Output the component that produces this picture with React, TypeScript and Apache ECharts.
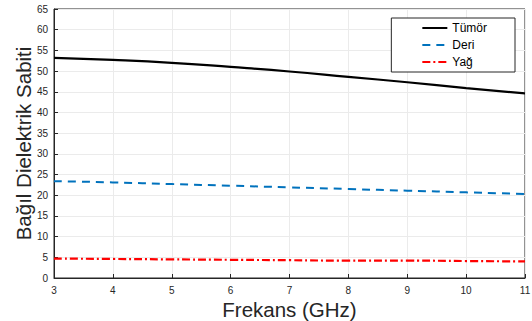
import React, { useEffect, useRef } from "react";
import * as echarts from "echarts";

const frequencies = [3, 4, 5, 6, 7, 8, 9, 10, 11];
const tumor = [53.2, 52.7, 52.0, 51.0, 49.9, 48.6, 47.3, 45.9, 44.6];
const skin = [23.4, 23.1, 22.7, 22.3, 21.9, 21.5, 21.1, 20.7, 20.3];
const fat = [4.7, 4.6, 4.5, 4.4, 4.3, 4.2, 4.2, 4.1, 4.0];
const seriesNames = ["Tümör", "Deri", "Yağ"];

const pairs = (ys: number[]) => frequencies.map((x, i) => [x, ys[i]]);

export default function App() {
  const ref = useRef<HTMLDivElement>(null);
  useEffect(() => {
    if (!ref.current) return;
    const chart = echarts.init(ref.current, null, { renderer: "svg" });
    const font = "Liberation Sans, Arial, sans-serif";
    chart.setOption({
      animation: false,
      textStyle: { fontFamily: font },
      grid: {
        left: 54,
        right: 7,
        top: 9,
        bottom: 43,
        outerBoundsMode: "none",
        show: true,
        borderColor: "#262626",
        borderWidth: 1,
        backgroundColor: "#fff",
      },
      legend: {
        data: seriesNames,
        orient: "vertical",
        right: 17,
        top: 18,
        itemWidth: 25,
        itemHeight: 10,
        itemGap: 5,
        padding: [4, 28, 4, 30],
        borderColor: "#262626",
        borderWidth: 1,
        backgroundColor: "#fff",
        itemStyle: { color: "transparent", borderColor: "transparent", borderWidth: 0, opacity: 0 },
        textStyle: { fontFamily: font, fontSize: 12, color: "#000" },
      },
      xAxis: {
        type: "value",
        min: 3,
        max: 11,
        interval: 1,
        name: "Frekans (GHz)",
        nameLocation: "middle",
        nameGap: 21,
        nameMoveOverlap: false,
        nameTextStyle: { fontSize: 20.5, color: "#262626", fontFamily: font },
        axisLine: { show: true, lineStyle: { color: "#262626" } },
        axisTick: { show: true, inside: true, length: 4, lineStyle: { color: "#262626" } },
        axisLabel: { fontSize: 10, color: "#262626", margin: 7 },
        splitLine: { show: true, lineStyle: { color: "#ebebeb" } },
      },
      yAxis: {
        type: "value",
        min: 0,
        max: 65,
        interval: 5,
        name: "Bağıl Dielektrik Sabiti",
        nameLocation: "middle",
        nameGap: 20,
        nameMoveOverlap: false,
        nameTextStyle: { fontSize: 20.5, color: "#262626", fontFamily: font },
        axisLine: { show: true, lineStyle: { color: "#262626" } },
        axisTick: { show: true, inside: true, length: 4, lineStyle: { color: "#262626" } },
        axisLabel: { fontSize: 10, color: "#262626", margin: 6 },
        splitLine: { show: true, lineStyle: { color: "#ebebeb" } },
      },
      series: [
        {
          name: seriesNames[0],
          type: "line",
          data: pairs(tumor),
          smooth: true,
          symbol: "none",
          lineStyle: { color: "#000", width: 2.2 },
          itemStyle: { color: "#000" },
        },
        {
          name: seriesNames[1],
          type: "line",
          data: pairs(skin),
          smooth: true,
          symbol: "none",
          lineStyle: { color: "#0072BD", width: 2, type: [8, 6] },
          itemStyle: { color: "#0072BD" },
        },
        {
          name: seriesNames[2],
          type: "line",
          data: pairs(fat),
          smooth: true,
          symbol: "none",
          lineStyle: { color: "#FF0000", width: 2.2, type: [8, 3, 2, 3] },
          itemStyle: { color: "#FF0000" },
        },
      ],
    });
    return () => chart.dispose();
  }, []);
  return <div ref={ref} style={{ width: 532, height: 321, position: "absolute", left: 0, top: 0 }} />;
}
